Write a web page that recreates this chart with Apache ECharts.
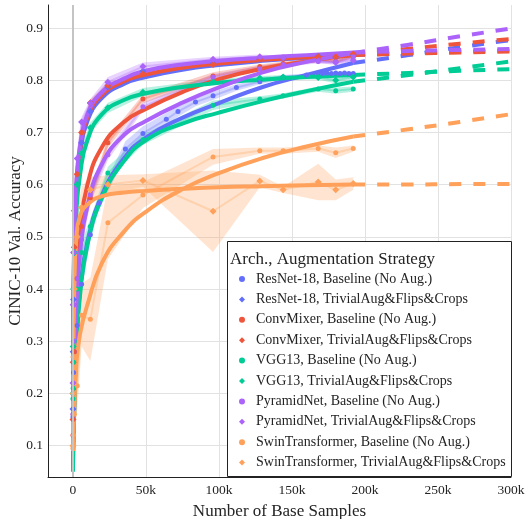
<!DOCTYPE html>
<html><head><meta charset="utf-8">
<script src="https://cdn.jsdelivr.net/npm/echarts@6/dist/echarts.min.js"></script>
<style>html,body{margin:0;padding:0;background:#fff}#c{width:525px;height:519px}</style>
</head><body><div id="c"></div>
<script>
// ---- tick values ----
const xTicks = [0, 50000, 100000, 150000, 200000, 250000, 300000];
const yTicks = [0.1, 0.2, 0.3, 0.4, 0.5, 0.6, 0.7, 0.8, 0.9];

// ---- legend / series names ----
const seriesNames = [
  'ResNet-18, Baseline (No Aug.)',
  'ResNet-18, TrivialAug&Flips&Crops',
  'ConvMixer, Baseline (No Aug.)',
  'ConvMixer, TrivialAug&Flips&Crops',
  'VGG13, Baseline (No Aug.)',
  'VGG13, TrivialAug&Flips&Crops',
  'PyramidNet, Baseline (No Aug.)',
  'PyramidNet, TrivialAug&Flips&Crops',
  'SwinTransformer, Baseline (No Aug.)',
  'SwinTransformer, TrivialAug&Flips&Crops'
];
const seriesColors = ['#636efa','#636efa','#EF553B','#EF553B','#00cc96','#00cc96','#ab63fa','#ab63fa','#FFA15A','#FFA15A'];
const seriesSymbols = ['circle','diamond','circle','diamond','circle','diamond','circle','diamond','circle','diamond'];

// ---- measured points (mean accuracy) and spread ----
const sampleX = [100, 250, 500, 1000, 3000, 6000, 12000, 24000, 48000, 96000, 128000, 144000, 168000, 180000, 192000];

const resnetBaseX = [100, 250, 500, 1000, 3000, 6000, 12000, 18000, 36000, 48000, 64000, 72000, 84000, 96000, 112000, 128000, 144000, 160000, 168000, 171000, 174000, 177000, 180000, 183000, 186000, 189000, 192000];
const resnetBaseY = [0.155, 0.2, 0.24, 0.28, 0.33, 0.409, 0.504, 0.565, 0.668, 0.698, 0.725, 0.74, 0.758, 0.77, 0.786, 0.797, 0.806, 0.81, 0.814, 0.813, 0.814, 0.813, 0.814, 0.813, 0.814, 0.813, 0.813];
const resnetBaseErr = [0.005, 0.01, 0.01, 0.015, 0.01, 0.01, 0.01, 0.012, 0.015, 0.014, 0.012, 0.01, 0.008, 0.008, 0.006, 0.005, 0.004, 0.003, 0.002, 0.002, 0.002, 0.002, 0.002, 0.002, 0.002, 0.002, 0.002];

const resnetTAY   = [0.17, 0.28, 0.38, 0.47, 0.6, 0.68, 0.74, 0.787, 0.817, 0.832, 0.84, 0.842, 0.846, 0.843, 0.848];
const resnetTAErr = [0.01, 0.015, 0.015, 0.015, 0.01, 0.01, 0.008, 0.006, 0.005, 0.004, 0.003, 0.003, 0.003, 0.003, 0.003];

const convBaseY   = [0.12, 0.16, 0.21, 0.28, 0.42, 0.52, 0.575, 0.68, 0.764, 0.808, 0.826, 0.832, 0.84, 0.836, 0.845];
const convBaseErr = [0.01, 0.015, 0.02, 0.02, 0.02, 0.015, 0.015, 0.01, 0.008, 0.007, 0.004, 0.004, 0.003, 0.003, 0.003];

const convTAY   = [0.15, 0.26, 0.37, 0.48, 0.62, 0.7, 0.757, 0.79, 0.812, 0.83, 0.84, 0.842, 0.845, 0.845, 0.85];
const convTAErr = [0.01, 0.02, 0.02, 0.02, 0.015, 0.01, 0.006, 0.005, 0.004, 0.003, 0.003, 0.003, 0.003, 0.003, 0.003];

const vggBaseY   = [0.19, 0.21, 0.26, 0.3, 0.4, 0.47, 0.52, 0.622, 0.686, 0.752, 0.764, 0.77, 0.783, 0.78, 0.783];
const vggBaseErr = [0.01, 0.02, 0.02, 0.02, 0.02, 0.02, 0.015, 0.012, 0.01, 0.009, 0.005, 0.005, 0.005, 0.006, 0.005];

const vggTAY   = [0.2, 0.29, 0.4, 0.47, 0.6, 0.66, 0.709, 0.747, 0.777, 0.797, 0.804, 0.806, 0.805, 0.8, 0.806];
const vggTAErr = [0.01, 0.02, 0.02, 0.02, 0.015, 0.012, 0.01, 0.01, 0.008, 0.005, 0.004, 0.004, 0.004, 0.006, 0.004];

const pyrBaseY   = [0.16, 0.22, 0.3, 0.37, 0.42, 0.495, 0.58, 0.657, 0.749, 0.806, 0.822, 0.83, 0.836, 0.835, 0.845];
const pyrBaseErr = [0.01, 0.02, 0.02, 0.02, 0.02, 0.02, 0.015, 0.01, 0.008, 0.006, 0.005, 0.004, 0.004, 0.004, 0.004];

const pyrTAY   = [0.22, 0.37, 0.47, 0.55, 0.65, 0.72, 0.756, 0.796, 0.826, 0.84, 0.845, 0.843, 0.837, 0.834, 0.838];
const pyrTAErr = [0.01, 0.02, 0.02, 0.02, 0.015, 0.01, 0.008, 0.01, 0.008, 0.005, 0.004, 0.004, 0.004, 0.005, 0.004];

const swinBaseY   = [0.095, 0.1, 0.12, 0.16, 0.215, 0.35, 0.342, 0.527, 0.58, 0.653, 0.665, 0.665, 0.669, 0.661, 0.669];
const swinBaseErr = [0.005, 0.01, 0.02, 0.03, 0.05, 0.06, 0.08, 0.07, 0.025, 0.015, 0.006, 0.006, 0.006, 0.01, 0.006];

const swinTAY   = [0.1, 0.2, 0.27, 0.4, 0.5, 0.556, 0.59, 0.6, 0.608, 0.549, 0.607, 0.59, 0.605, 0.59, 0.602];
const swinTAErr = [0.005, 0.02, 0.05, 0.06, 0.05, 0.04, 0.025, 0.018, 0.012, 0.078, 0.012, 0.006, 0.035, 0.02, 0.012];

// ---- fitted curves ----
const fitX = [100, 300, 1000, 2500, 5000, 10000, 20000, 35000, 50000, 75000, 100000, 130000, 160000, 192000];
const resnetBaseFit = [0.06, 0.1, 0.18, 0.3, 0.4, 0.49, 0.58, 0.65, 0.69, 0.728, 0.756, 0.787, 0.81, 0.833];
const resnetTAFit   = [0.16, 0.28, 0.46, 0.585, 0.66, 0.722, 0.766, 0.793, 0.806, 0.82, 0.829, 0.837, 0.843, 0.848];
const convBaseFit   = [0.1, 0.15, 0.27, 0.41, 0.51, 0.6, 0.672, 0.72, 0.745, 0.777, 0.802, 0.822, 0.836, 0.848];
const convTAFit     = [0.18, 0.3, 0.48, 0.6, 0.668, 0.73, 0.772, 0.798, 0.811, 0.824, 0.832, 0.839, 0.844, 0.848];
const vggBaseFit    = [0.05, 0.09, 0.17, 0.29, 0.39, 0.485, 0.575, 0.645, 0.685, 0.717, 0.738, 0.76, 0.779, 0.797];
const vggTAFit      = [0.15, 0.26, 0.42, 0.55, 0.62, 0.685, 0.735, 0.762, 0.775, 0.787, 0.795, 0.801, 0.806, 0.81];
const pyrBaseFit    = [0.09, 0.14, 0.25, 0.37, 0.47, 0.56, 0.64, 0.695, 0.722, 0.757, 0.786, 0.815, 0.835, 0.852];
const pyrTAFit      = [0.2, 0.33, 0.5, 0.61, 0.675, 0.735, 0.777, 0.803, 0.818, 0.83, 0.837, 0.843, 0.848, 0.853];
const swinBaseFit   = [0.09, 0.12, 0.17, 0.26, 0.315, 0.37, 0.45, 0.51, 0.548, 0.591, 0.622, 0.651, 0.673, 0.692];
const swinTAFit     = [0.12, 0.22, 0.4, 0.5, 0.54, 0.562, 0.578, 0.585, 0.588, 0.592, 0.595, 0.597, 0.599, 0.6];

// ---- extrapolation (dashed) ----
const extX = [192000, 230000, 265000, 300000];
const resnetBaseExt = [0.833, 0.848, 0.863, 0.877];
const resnetTAExt   = [0.848, 0.852, 0.855, 0.857];
const convBaseExt   = [0.848, 0.86, 0.87, 0.879];
const convTAExt     = [0.848, 0.851, 0.853, 0.855];
const vggBaseExt    = [0.797, 0.81, 0.823, 0.836];
const vggTAExt      = [0.81, 0.814, 0.818, 0.821];
const pyrBaseExt    = [0.852, 0.868, 0.884, 0.899];
const pyrTAExt      = [0.853, 0.856, 0.858, 0.86];
const swinBaseExt   = [0.692, 0.706, 0.72, 0.735];
const swinTAExt     = [0.6, 0.6, 0.601, 0.601];

// ---- assemble ----
const groups = [
  {x: resnetBaseX, y: resnetBaseY, err: resnetBaseErr, fit: resnetBaseFit, ext: resnetBaseExt},
  {x: sampleX, y: resnetTAY, err: resnetTAErr, fit: resnetTAFit, ext: resnetTAExt},
  {x: sampleX, y: convBaseY, err: convBaseErr, fit: convBaseFit, ext: convBaseExt},
  {x: sampleX, y: convTAY, err: convTAErr, fit: convTAFit, ext: convTAExt},
  {x: sampleX, y: vggBaseY, err: vggBaseErr, fit: vggBaseFit, ext: vggBaseExt},
  {x: sampleX, y: vggTAY, err: vggTAErr, fit: vggTAFit, ext: vggTAExt},
  {x: sampleX, y: pyrBaseY, err: pyrBaseErr, fit: pyrBaseFit, ext: pyrBaseExt},
  {x: sampleX, y: pyrTAY, err: pyrTAErr, fit: pyrTAFit, ext: pyrTAExt},
  {x: sampleX, y: swinBaseY, err: swinBaseErr, fit: swinBaseFit, ext: swinBaseExt},
  {x: sampleX, y: swinTAY, err: swinTAErr, fit: swinTAFit, ext: swinTAExt}
];

function rgba(hex, a) {
  const n = parseInt(hex.slice(1), 16);
  return 'rgba(' + ((n >> 16) & 255) + ',' + ((n >> 8) & 255) + ',' + (n & 255) + ',' + a + ')';
}

const FONT = 'Liberation Serif, Times New Roman, serif';
const TXT = '#242424';

const series = [];
series.push({
  type: 'line', name: '_zero', data: [], z: 0, silent: true,
  markLine: {symbol: 'none', silent: true, label: {show: false},
    lineStyle: {color: '#c4c4c4', width: 2, type: 'solid'},
    emphasis: {disabled: true},
    data: [{xAxis: 0}]}
});

groups.forEach((g, i) => {
  const col = seriesColors[i];
  const bandData = g.x.map((x, k) => [x, g.y[k] - g.err[k], g.y[k] + g.err[k]]);
  series.push({
    type: 'custom', name: '_band' + i, z: 1, silent: true, clip: true,
    data: bandData, encode: {x: 0, y: [1, 2]},
    renderItem: function (params, api) {
      if (params.dataIndex !== 0) return null;
      const up = bandData.map(d => api.coord([d[0], d[2]]));
      const lo = bandData.map(d => api.coord([d[0], d[1]])).reverse();
      return {type: 'polygon', shape: {points: up.concat(lo)}, style: {fill: rgba(col, 0.28)}};
    }
  });
  series.push({
    type: 'line', name: '_thin' + i, z: 2, silent: true, symbol: 'none',
    data: g.x.map((x, k) => [x, g.y[k]]),
    lineStyle: {color: col, width: 2, opacity: 0.3}, itemStyle: {color: col},
    emphasis: {disabled: true}
  });
});
groups.forEach((g, i) => {
  const col = seriesColors[i];
  series.push({
    type: 'line', name: '_fit' + i, z: 3, silent: true, symbol: 'none',
    smooth: 0.5,
    data: fitX.map((x, k) => [x, g.fit[k]]),
    lineStyle: {color: col, width: 4}, itemStyle: {color: col},
    emphasis: {disabled: true}
  });
  series.push({
    type: 'line', name: '_ext' + i, z: 3, silent: true, symbol: 'none',
    smooth: 0.5,
    data: extX.map((x, k) => [x, g.ext[k]]),
    lineStyle: {color: col, width: 4, type: [12, 12]}, itemStyle: {color: col},
    emphasis: {disabled: true}
  });
});
groups.forEach((g, i) => {
  const col = seriesColors[i];
  series.push({
    type: 'scatter', name: seriesNames[i], z: 4,
    symbol: seriesSymbols[i], symbolSize: seriesSymbols[i] === 'diamond' ? 7 : 5,
    data: g.x.map((x, k) => [x, g.y[k]]),
    itemStyle: {color: col, opacity: 1},
    emphasis: {disabled: true}
  });
});

const chart = echarts.init(document.getElementById('c'), null, {renderer: 'canvas'});
chart.setOption({
  animation: false,
  backgroundColor: '#fff',
  grid: {left: 48, right: 14, top: 5, bottom: 42, containLabel: false, outerBoundsMode: 'none'},
  xAxis: {
    type: 'value', min: -17000, max: 300000,
    axisLine: {show: true, onZero: false, lineStyle: {color: '#222', width: 1}},
    axisTick: {show: false, customValues: xTicks},
    axisLabel: {customValues: xTicks, formatter: v => v === 0 ? '0' : (v / 1000) + 'k',
      fontFamily: FONT, fontSize: 13.5, color: TXT, margin: 6},
    splitLine: {show: true, lineStyle: {color: '#e2e2e2', width: 1}},
    name: 'Number of Base Samples', nameLocation: 'middle', nameGap: 26, nameMoveOverlap: false,
    nameTextStyle: {fontFamily: FONT, fontSize: 17, color: TXT}
  },
  yAxis: {
    type: 'value', min: 0.04, max: 0.944,
    axisLine: {show: true, onZero: false, lineStyle: {color: '#222', width: 1}},
    axisTick: {show: false, customValues: yTicks},
    axisLabel: {customValues: yTicks, formatter: v => v.toFixed(1),
      fontFamily: FONT, fontSize: 13.5, color: TXT, margin: 5},
    splitLine: {show: true, lineStyle: {color: '#e2e2e2', width: 1}},
    name: 'CINIC-10 Val. Accuracy', nameLocation: 'middle', nameGap: 24, nameMoveOverlap: false,
    nameTextStyle: {fontFamily: FONT, fontSize: 17, color: TXT}
  },
  legend: {
    z: 110, orient: 'vertical', left: 239, top: 271, padding: 0, selectedMode: false,
    itemWidth: 6, itemHeight: 6, itemGap: 4.4,
    data: seriesNames.map((n, i) => ({name: n, icon: seriesSymbols[i]})),
    textStyle: {fontFamily: FONT, fontSize: 14, color: TXT, lineHeight: 16, padding: [0, 0, 0, 6]}
  },
  graphic: [
    {type: 'rect', z: 100, shape: {x: 227.5, y: 241.5, width: 284, height: 235},
      style: {fill: '#fff', stroke: '#222', lineWidth: 1}},
    {type: 'text', z: 101, x: 230, y: 260,
      style: {text: 'Arch., Augmentation Strategy', font: '17px ' + FONT, fill: TXT, textVerticalAlign: 'middle'}}
  ],
  series: series
});
</script>
</body></html>
